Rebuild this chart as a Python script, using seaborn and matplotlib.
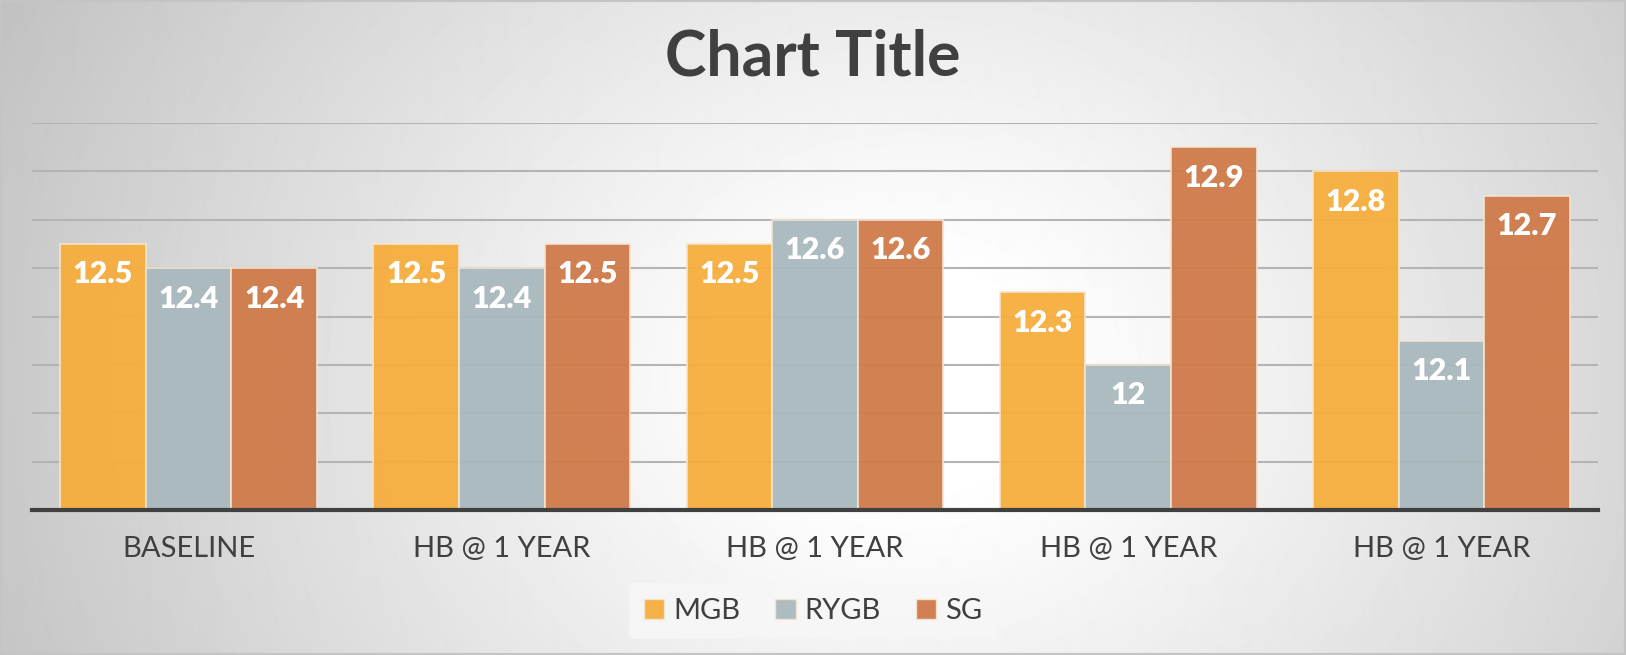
import numpy as np
import pandas as pd
import matplotlib
matplotlib.use("Agg")
import matplotlib.pyplot as plt
from matplotlib.patches import Patch, Rectangle
import seaborn as sns

# --- data ---
groups = ["BASELINE", "HB @ 1 YEAR", "HB @ 1 YEAR", "HB @ 1 YEAR", "HB @ 1 YEAR"]
series = ["MGB", "RYGB", "SG"]
mgb = [12.5, 12.5, 12.5, 12.3, 12.8]
rygb = [12.4, 12.4, 12.6, 12.0, 12.1]
sg = [12.4, 12.5, 12.6, 12.9, 12.7]
colors = {"MGB": "#f6ad3d", "RYGB": "#a8b9bd", "SG": "#d07a4a"}

rows = []
for i in range(len(groups)):
    for name, vals in zip(series, [mgb, rygb, sg]):
        rows.append({"slot": i, "series": name, "value": vals[i]})
df = pd.DataFrame(rows)

TXT = "#404040"
EDGE = "#f3e6d2"
plt.rcParams["font.family"] = ["Lato", "DejaVu Sans"]

W, H = 1626, 655
fig = plt.figure(figsize=(W / 100, H / 100), dpi=100)

# radial grey-to-white background
bg = fig.add_axes([0, 0, 1, 1], zorder=0)
yy, xx = np.mgrid[0:H, 0:W]
r = np.sqrt(((xx - 0.56 * W) / (0.62 * W)) ** 2 + ((yy - 0.58 * H) / (1.3 * H)) ** 2)
shade = 1.0 - 0.24 * np.clip((r - 0.12) / 0.88, 0, 1) ** 1.1
bg.imshow(shade, cmap="gray", vmin=0, vmax=1, aspect="auto", interpolation="bilinear")
bg.axis("off")
fig.patches.append(Rectangle((0, 0), 1, 1, transform=fig.transFigure, fill=False,
                             edgecolor="#c4c4c4", linewidth=3, zorder=5))

ax = fig.add_axes([32 / W, 145 / H, 1566 / W, 387 / H], zorder=1)
ax.patch.set_alpha(0)
sns.barplot(data=df, x="slot", y="value", hue="series", palette=colors,
            saturation=1, width=0.82, gap=0, alpha=0.95, edgecolor=EDGE,
            linewidth=1.2, legend=False, ax=ax)

ax.set_ylim(11.4, 13.0)
ax.set_yticks(np.arange(11.6, 13.01, 0.2))
ax.yaxis.grid(True, color="#b4b4b4", linewidth=1.5)
ax.set_axisbelow(True)
ax.set_xlim(-0.5, len(groups) - 0.5)
ax.set_xticks(range(len(groups)))
ax.set_xticklabels(groups, fontsize=21, color=TXT)
ax.tick_params(axis="x", length=0, pad=19)
ax.tick_params(axis="y", length=0, labelleft=False)
ax.set_xlabel("")
ax.set_ylabel("")
for s in ["top", "right", "left"]:
    ax.spines[s].set_visible(False)
ax.spines["bottom"].set_color(TXT)
ax.spines["bottom"].set_linewidth(3)

for cont in ax.containers:
    ax.bar_label(cont, fmt="{:g}", padding=-32, color="white",
                 fontsize=22, fontweight="heavy")

fig.text(0.5, 1 - 58 / H, "Chart Title", ha="center", va="center",
         fontsize=45, fontweight="bold", color=TXT)

handles = [Patch(facecolor=colors[s], edgecolor=EDGE, alpha=0.95, label=s) for s in series]
leg = fig.legend(handles=handles, loc="center", bbox_to_anchor=(0.5, 1 - 611 / H),
                 ncol=3, frameon=True, fontsize=21, handlelength=0.7, handleheight=0.7,
                 handletextpad=0.3, columnspacing=1.2, fancybox=False, borderpad=0.5)
leg.get_frame().set_facecolor("#f7f7f7")
leg.get_frame().set_edgecolor("none")
for t in leg.get_texts():
    t.set_color(TXT)

fig.savefig("out.png", dpi=100)
